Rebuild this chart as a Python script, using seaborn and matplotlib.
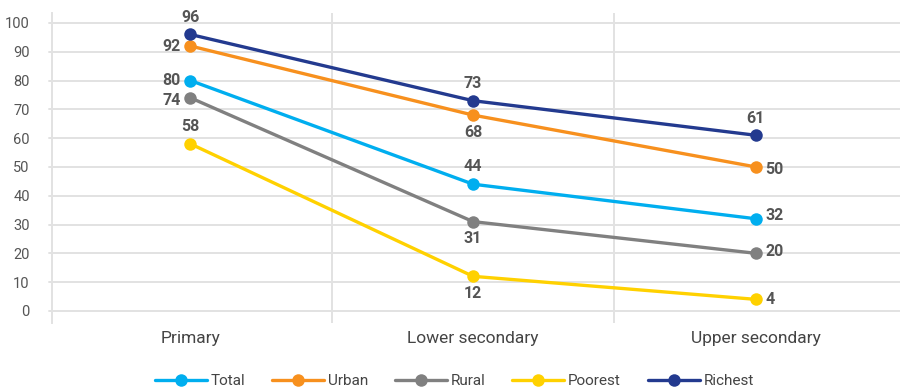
import matplotlib
matplotlib.use("Agg")
import matplotlib.pyplot as plt
import seaborn as sns
import pandas as pd
from matplotlib.font_manager import FontProperties

levels = ["Primary", "Lower secondary", "Upper secondary"]
groups = ["Total", "Urban", "Rural", "Poorest", "Richest"]
total = [80, 44, 32]
urban = [92, 68, 50]
rural = [74, 31, 20]
poorest = [58, 12, 4]
richest = [96, 73, 61]
colors = ["#00AEEF", "#F7901E", "#808080", "#FFD100", "#233A8F"]

series = dict(zip(groups, [total, urban, rural, poorest, richest]))
df = pd.DataFrame(
    [(lvl, g, v) for g in groups for lvl, v in zip(levels, series[g])],
    columns=["level", "group", "value"],
)

sns.set_theme(style="white")
plt.rcParams["font.family"] = ["Roboto", "DejaVu Sans"]

fig = plt.figure(figsize=(9, 3.91), dpi=100)
ax = fig.add_axes([0.0578, 0.174, 0.942, 0.793])

grid_c = "#E2E2E2"
for y in range(0, 101, 10):
    ax.axhline(y, color=grid_c, lw=1.4, zorder=0, xmin=-0.004, clip_on=False)
for x in [0.5, 1.5]:
    ax.axvline(x, color=grid_c, lw=1.4, zorder=0)

sns.lineplot(
    data=df, x="level", y="value", hue="group", hue_order=groups,
    palette=colors, marker="o", markersize=9, markeredgewidth=0,
    linewidth=2.4, ax=ax, legend=True, sort=False,
)

ax.set_xlim(-0.49, 2.51)
ax.set_ylim(-4.2, 103.5)
ax.set_yticks(range(0, 101, 10))
ax.set_xlabel("")
ax.set_ylabel("")
for s in ["top", "right", "bottom"]:
    ax.spines[s].set_visible(False)
ax.spines["left"].set_color(grid_c)
ax.spines["left"].set_linewidth(1.4)

ax.tick_params(axis="y", length=0, pad=16, labelsize=10.5, labelcolor="#555555")
ax.tick_params(axis="x", length=0, pad=6, labelsize=12.5, labelcolor="#444444")

# Label placement per point: (dx, dy) offsets in points and alignment
place = {
    ("Primary", "Richest"): (0, 7, "center", "bottom"),
    ("Primary", "Urban"): (-7, 0, "right", "center"),
    ("Primary", "Total"): (-7, 0, "right", "center"),
    ("Primary", "Rural"): (-7, -2, "right", "center"),
    ("Primary", "Poorest"): (0, 7, "center", "bottom"),
    ("Lower secondary", "Richest"): (0, 7, "center", "bottom"),
    ("Lower secondary", "Urban"): (0, -7, "center", "top"),
    ("Lower secondary", "Total"): (0, 7, "center", "bottom"),
    ("Lower secondary", "Rural"): (0, -7, "center", "top"),
    ("Lower secondary", "Poorest"): (0, -7, "center", "top"),
    ("Upper secondary", "Richest"): (0, 7, "center", "bottom"),
    ("Upper secondary", "Urban"): (7, -2, "left", "center"),
    ("Upper secondary", "Total"): (7, 2, "left", "center"),
    ("Upper secondary", "Rural"): (7, 1, "left", "center"),
    ("Upper secondary", "Poorest"): (7, 0, "left", "center"),
}
for g in groups:
    for i, lvl in enumerate(levels):
        v = series[g][i]
        dx, dy, ha, va = place[(lvl, g)]
        ax.annotate(
            str(v), (i, v), xytext=(dx, dy), textcoords="offset points",
            ha=ha, va=va, fontsize=11.5, fontweight="bold", color="#555555",
        )

handles, labels = ax.get_legend_handles_labels()
ax.legend_.remove()
leg = fig.legend(
    handles, labels, loc="center", bbox_to_anchor=(0.505, 0.025), ncol=5,
    frameon=False, handlelength=3.4, columnspacing=1.75, handletextpad=0.25,
    prop=FontProperties(size=11),
)
for t in leg.get_texts():
    t.set_color("#444444")

fig.savefig("out.png", dpi=100)
